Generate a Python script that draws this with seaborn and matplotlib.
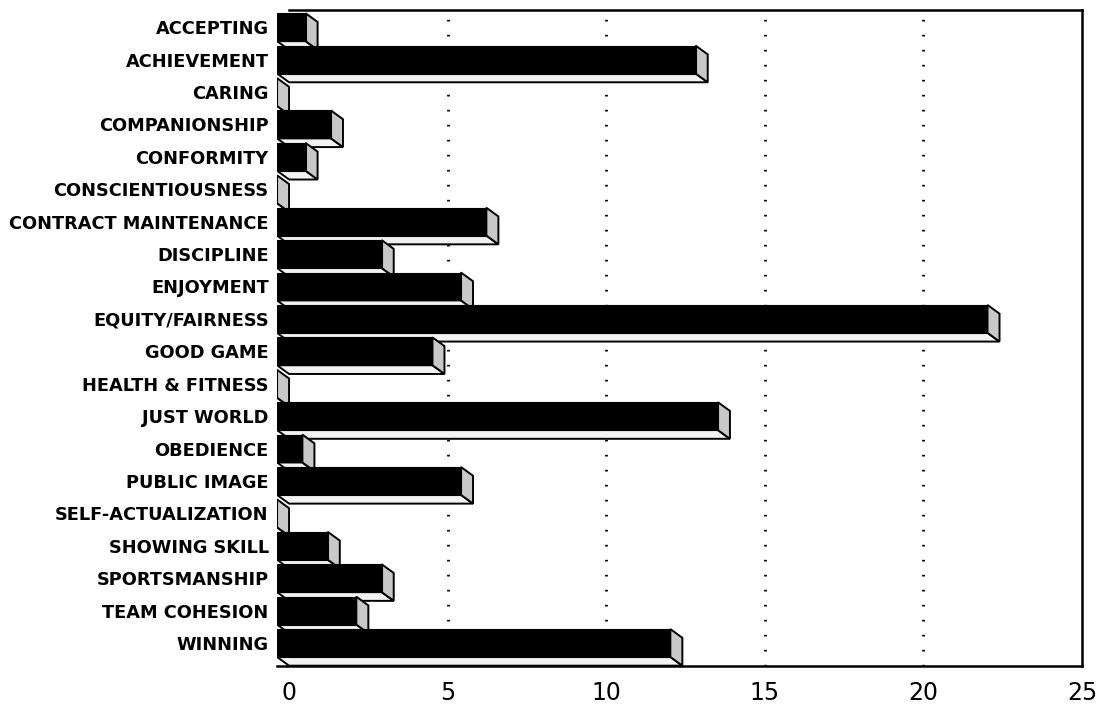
import matplotlib
matplotlib.use("Agg")
import matplotlib.pyplot as plt
import seaborn as sns
import pandas as pd
from matplotlib.patches import Polygon

# Share of responses (%) per value category
categories = [
    "ACCEPTING", "ACHIEVEMENT", "CARING", "COMPANIONSHIP", "CONFORMITY",
    "CONSCIENTIOUSNESS", "CONTRACT MAINTENANCE", "DISCIPLINE", "ENJOYMENT",
    "EQUITY/FAIRNESS", "GOOD GAME", "HEALTH & FITNESS", "JUST WORLD",
    "OBEDIENCE", "PUBLIC IMAGE", "SELF-ACTUALIZATION", "SHOWING SKILL",
    "SPORTSMANSHIP", "TEAM COHESION", "WINNING",
]
values = [0.9, 13.2, 0.0, 1.7, 0.9, 0.0, 6.6, 3.3, 5.8, 22.4,
          4.9, 0.0, 13.9, 0.8, 5.8, 0.0, 1.6, 3.3, 2.5, 12.4]
x_ticks = [0, 5, 10, 15, 20, 25]

df = pd.DataFrame({"category": categories, "value": values})

sns.set_theme(style="white")
plt.rcParams["font.family"] = ["DejaVu Sans"]

W, H = 1103, 709
fig = plt.figure(figsize=(W / 100, H / 100), dpi=100)
fig.patch.set_facecolor("white")
ax = fig.add_axes([277 / W, 1 - 666 / H, 805 / W, 656 / H])

# depth of the pseudo-3D extrusion, in data units (x: value, y: category slot)
dx, dy = 0.38, 0.27

sns.barplot(data=df, x="value", y="category", orient="h", color="black",
            saturation=1, width=0.86, ax=ax, zorder=3)

bars = list(ax.patches)
for i, bar in enumerate(bars):
    v = bar.get_width()
    y0 = bar.get_y()
    y1 = y0 + bar.get_height()
    z = 3 + i * 0.01
    # front face sits slightly forward (left/up) of the value plane
    bar.set_x(-dx)
    bar.set_edgecolor("black")
    bar.set_linewidth(0.8)
    bar.set_zorder(z + 0.003)
    bottom = Polygon([(-dx, y1), (v - dx, y1), (v, y1 + dy), (0, y1 + dy)],
                     closed=True, facecolor="#f2f2f2", edgecolor="black",
                     linewidth=1.4, zorder=z + 0.001)
    side = Polygon([(v - dx, y0), (v, y0 + dy), (v, y1 + dy), (v - dx, y1)],
                   closed=True, facecolor="#c8c8c8", edgecolor="black",
                   linewidth=1.4, zorder=z + 0.002)
    ax.add_patch(bottom)
    ax.add_patch(side)

ax.set_xlim(-dx, 25)
ax.set_ylim(len(categories) - 1 + 0.71, -0.53)
ax.set_xticks(x_ticks)
ax.set_xticklabels([str(t) for t in x_ticks], fontsize=17)
ax.set_xlabel("")
ax.set_ylabel("")
ax.tick_params(axis="x", length=0, pad=11, colors="black")
ax.tick_params(axis="y", length=0, pad=6, colors="black")
for lab in ax.get_yticklabels():
    lab.set_fontsize(12.8)
    lab.set_fontweight("bold")

# dotted reference lines on the back wall
for t in x_ticks[1:-1]:
    ax.axvline(t, color="black", linestyle=(0, (0.6, 4.8)), linewidth=2.0,
               zorder=1)

ax.spines["left"].set_visible(False)
for side_name in ("top", "right", "bottom"):
    ax.spines[side_name].set_color("black")
    ax.spines[side_name].set_linewidth(1.8)
ax.spines["top"].set_bounds(0, 25)

fig.savefig("out.png", dpi=100, facecolor="white")
